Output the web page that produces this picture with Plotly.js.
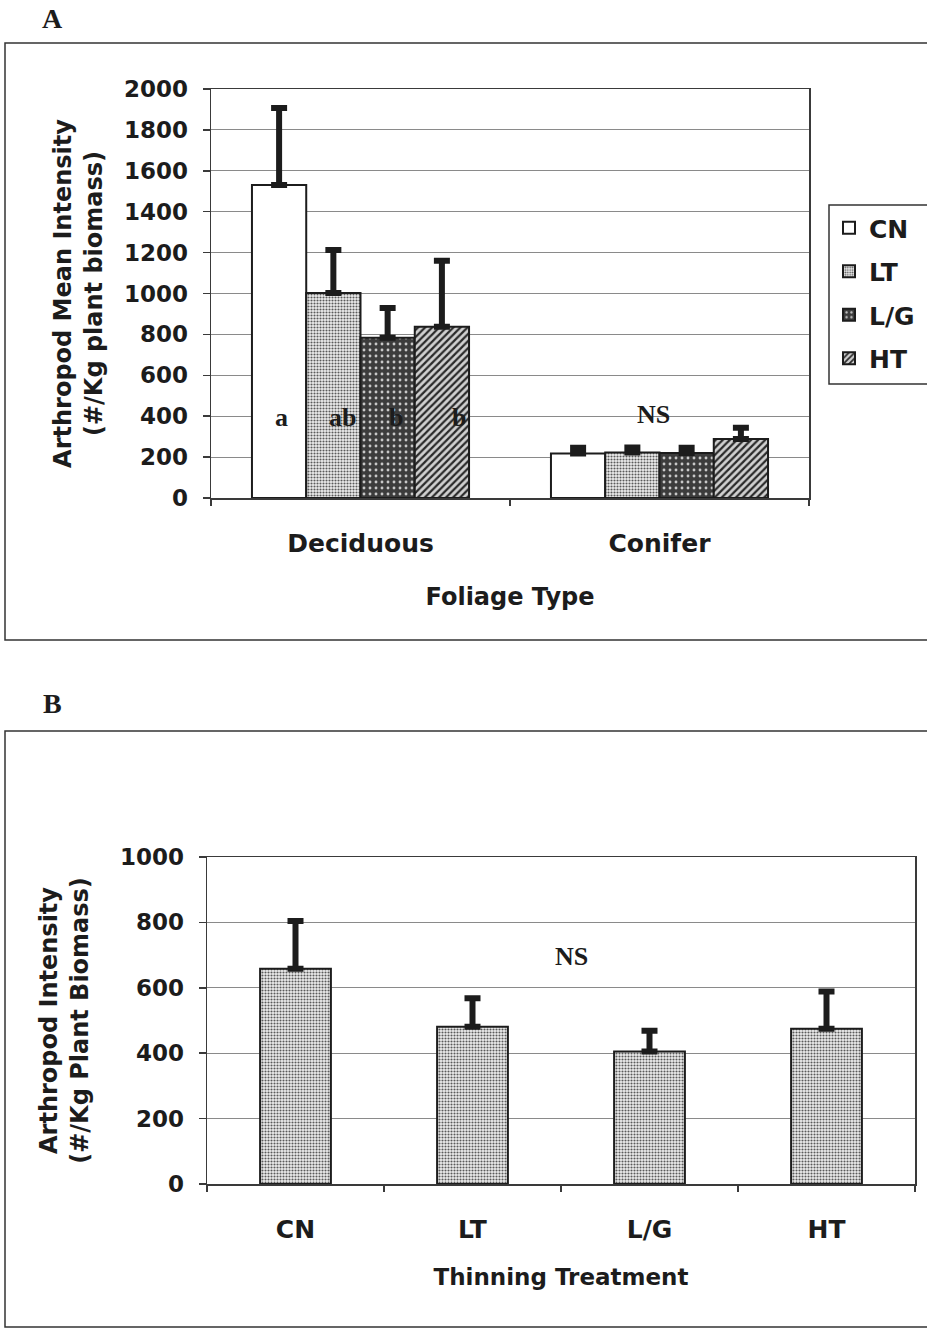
<!DOCTYPE html>
<html>
<head>
<meta charset="utf-8">
<script src="https://cdn.plot.ly/plotly-3.0.1.min.js"></script>
<style>
  html, body { margin: 0; padding: 0; background: #ffffff; }
  #chart { width: 927px; height: 1330px; }
</style>
</head>
<body>
<div id="chart"></div>
<script>
// Panel A: arthropod mean intensity by foliage type and thinning treatment
const foliageTypes = ['Deciduous', 'Conifer'];
const treatments = ['CN', 'LT', 'L/G', 'HT'];
const meanCN = [1530, 218];
const meanLT = [1002, 222];
const meanLG = [784, 220];
const meanHT = [838, 288];
const seCN = [377, 28];
const seLT = [211, 25];
const seLG = [145, 26];
const seHT = [322, 56];
const lettersDeciduous = ['a', 'ab', 'b', 'b'];

// Panel B: arthropod intensity by thinning treatment
const thinningTreatments = ['CN', 'LT', 'L/G', 'HT'];
const intensityB = [658, 481, 405, 475];
const seB = [146, 87, 64, 114];

const W = 927, H = 1330;
const px = v => v / W;          // horizontal pixel -> paper
const py = v => 1 - v / H;      // vertical pixel -> paper

const sans = 'DejaVu Sans, Arial, sans-serif';
const serif = 'Liberation Serif, Times New Roman, serif';
const ink = '#1c1c1c';

// fill styles for each treatment
const fills = {
  'CN':  { color: '#ffffff', pattern: { shape: '' } },
  'LT':  { color: '#dcdcdc', pattern: { shape: '.', fgcolor: '#5a5a5a', bgcolor: '#eeeeee', size: 3, solidity: 0.4, fillmode: 'replace' } },
  'L/G': { color: '#444444', pattern: { shape: '.', fgcolor: '#c8c8c8', bgcolor: '#3c3c3c', size: 6, solidity: 0.18, fillmode: 'replace' } },
  'HT':  { color: '#bbbbbb', pattern: { shape: '/', fgcolor: '#2a2a2a', bgcolor: '#d0d0d0', size: 5, solidity: 0.45, fillmode: 'replace' } }
};

const meansA = [meanCN, meanLT, meanLG, meanHT];
const sesA = [seCN, seLT, seLG, seHT];

const traces = treatments.map((t, i) => ({
  type: 'bar',
  name: t,
  x: foliageTypes,
  y: meansA[i],
  xaxis: 'x',
  yaxis: 'y',
  legendgroup: t,
  marker: {
    color: fills[t].color,
    pattern: fills[t].pattern,
    line: { color: ink, width: 2 }
  },
  error_y: {
    type: 'data', symmetric: false,
    array: sesA[i], arrayminus: sesA[i].map(() => 0),
    color: ink, thickness: 6, width: 8
  },
  hoverinfo: 'x+y+name'
}));

traces.push({
  type: 'bar',
  name: 'Intensity',
  x: thinningTreatments,
  y: intensityB,
  xaxis: 'x2',
  yaxis: 'y2',
  showlegend: false,
  width: 0.4,
  marker: {
    color: fills['LT'].color,
    pattern: fills['LT'].pattern,
    line: { color: ink, width: 2 }
  },
  error_y: {
    type: 'data', symmetric: false,
    array: seB, arrayminus: seB.map(() => 0),
    color: ink, thickness: 6, width: 8
  }
});

const tickFont = { family: sans, size: 23, color: ink, weight: 'bold' };
const catFont = { family: sans, size: 25, color: ink, weight: 'bold' };
const titleFont = { family: sans, size: 24, color: ink, weight: 'bold' };

// letter annotations sit on the deciduous bars
const bargapA = 0.274;
const barW = (1 - bargapA) / treatments.length;
const letterShift = [2, 9, 8, 17];
const annotations = lettersDeciduous.map((s, i) => ({
  xref: 'x', yref: 'y',
  x: 0 - (1 - bargapA) / 2 + barW * (i + 0.5),
  y: 396, text: s, showarrow: false, xshift: letterShift[i],
  font: { family: serif, size: 26, color: ink, weight: 'bold' }
}));

annotations.push(
  { xref: 'x', yref: 'y', x: 1, y: 406, text: 'NS', showarrow: false, xshift: -6,
    font: { family: serif, size: 26, color: ink, weight: 'bold' } },
  { xref: 'x2', yref: 'y2', x: 1.56, y: 696, text: 'NS', showarrow: false,
    font: { family: serif, size: 26, color: ink, weight: 'bold' } },
  { xref: 'paper', yref: 'paper', x: px(52), y: py(18), text: 'A', showarrow: false,
    xanchor: 'center', yanchor: 'middle',
    font: { family: serif, size: 28, color: ink, weight: 'bold' } },
  { xref: 'paper', yref: 'paper', x: px(52), y: py(704), text: 'B', showarrow: false,
    xanchor: 'center', yanchor: 'middle',
    font: { family: serif, size: 28, color: ink, weight: 'bold' } }
);

const frameLine = { color: '#333333', width: 1.5 };
const shapes = [
  { type: 'rect', xref: 'paper', yref: 'paper', x0: px(5), x1: 1.05, y0: py(640), y1: py(43), line: frameLine, layer: 'below' },
  { type: 'rect', xref: 'paper', yref: 'paper', x0: px(5), x1: 1.05, y0: py(1327), y1: py(731), line: frameLine, layer: 'below' },
  // legend box, running off the right edge of the page
  { type: 'rect', xref: 'paper', yref: 'paper', x0: px(829), x1: 1.05, y0: py(384), y1: py(205), line: frameLine, layer: 'above' }
];

const axisCommon = {
  showline: true, mirror: true, linecolor: '#3a3a3a', linewidth: 1.5,
  ticks: 'outside', tickcolor: '#3a3a3a', ticklen: 7, tickwidth: 1.5,
  zeroline: false, fixedrange: true
};

const layout = {
  width: W, height: H,
  margin: { l: 0, r: 0, t: 0, b: 0 },
  paper_bgcolor: '#ffffff',
  plot_bgcolor: '#ffffff',
  barmode: 'group',
  bargap: bargapA,
  bargroupgap: 0,
  showlegend: true,
  legend: {
    x: px(829), y: py(205), xanchor: 'left', yanchor: 'top',
    borderwidth: 0, bgcolor: 'rgba(255,255,255,0)',
    font: { family: sans, size: 25, color: ink, weight: 'bold' },
    tracegroupgap: 8, traceorder: 'grouped', itemwidth: 30
  },
  xaxis: Object.assign({}, axisCommon, {
    domain: [px(211), px(809)], anchor: 'y',
    type: 'category', tickson: 'boundaries', ticklen: 6,
    tickfont: catFont, ticklabelstandoff: 22,
    title: { text: 'Foliage Type', font: titleFont, standoff: 31 }
  }),
  yaxis: Object.assign({}, axisCommon, {
    domain: [py(498), py(89)], anchor: 'x',
    range: [0, 2000], dtick: 200, tick0: 0,
    showgrid: true, gridcolor: '#8a8a8a', gridwidth: 1,
    tickfont: tickFont, ticklabelstandoff: 10,
    title: { text: 'Arthropod Mean Intensity<br>(#/Kg plant biomass)', font: titleFont, standoff: 14 }
  }),
  xaxis2: Object.assign({}, axisCommon, {
    domain: [px(207), px(915)], anchor: 'y2',
    type: 'category', tickson: 'boundaries', ticklen: 6,
    tickfont: catFont, ticklabelstandoff: 22,
    title: { text: 'Thinning Treatment', font: { family: sans, size: 23, color: ink, weight: 'bold' }, standoff: 26 }
  }),
  yaxis2: Object.assign({}, axisCommon, {
    domain: [py(1184), py(857)], anchor: 'x2',
    range: [0, 1000], dtick: 200, tick0: 0,
    showgrid: true, gridcolor: '#8a8a8a', gridwidth: 1,
    tickfont: tickFont, ticklabelstandoff: 10,
    title: { text: 'Arthropod Intensity<br>(#/Kg Plant Biomass)', font: titleFont, standoff: 24 }
  }),
  annotations: annotations,
  shapes: shapes
};

Plotly.newPlot('chart', traces, layout, { staticPlot: true, displayModeBar: false });
</script>
</body>
</html>
